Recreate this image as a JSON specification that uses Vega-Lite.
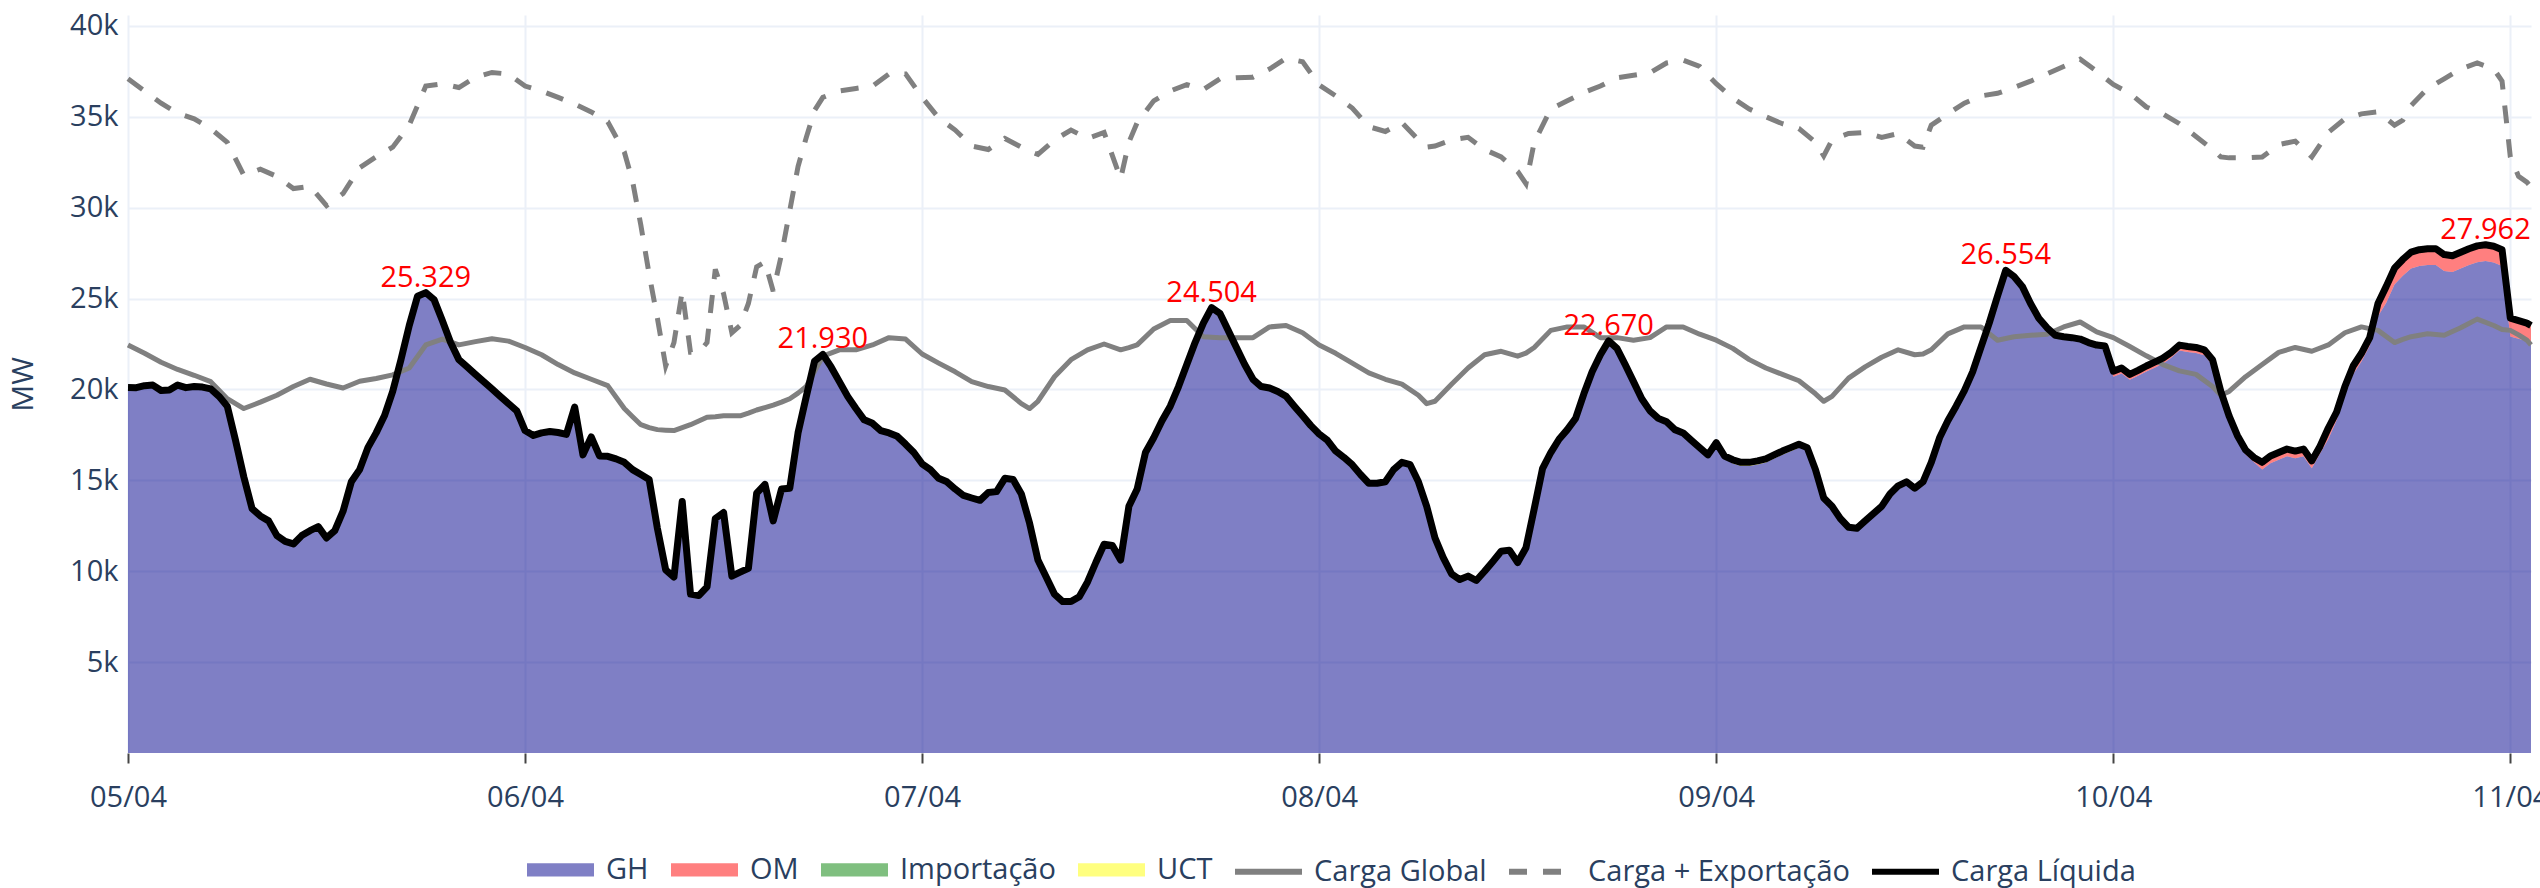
{
"$schema":"https://vega.github.io/schema/vega-lite/v6.json",
"width":2403,"height":738,
"autosize":{"type":"none"},
"padding":{"left":128,"top":15,"right":9,"bottom":135},
"background":"white",
"config":{"view":{"stroke":null},"font":"Open Sans",
"axis":{"labelFont":"Open Sans","titleFont":"Open Sans","labelColor":"#2a3f5f","titleColor":"#2a3f5f","gridColor":"#EBF0F8","gridWidth":2,"domain":false}},
"datasets":{
"g":[
{"t":"2023-04-05T00:00","GH":20110,"OM":0,"UCT":0,"cl":20110},
{"t":"2023-04-05T00:30","GH":20100,"OM":0,"UCT":0,"cl":20100},
{"t":"2023-04-05T01:00","GH":20210,"OM":0,"UCT":0,"cl":20210},
{"t":"2023-04-05T01:30","GH":20240,"OM":0,"UCT":0,"cl":20240},
{"t":"2023-04-05T02:00","GH":19940,"OM":0,"UCT":0,"cl":19940},
{"t":"2023-04-05T02:30","GH":19970,"OM":0,"UCT":0,"cl":19970},
{"t":"2023-04-05T03:00","GH":20240,"OM":0,"UCT":0,"cl":20240},
{"t":"2023-04-05T03:30","GH":20100,"OM":0,"UCT":0,"cl":20100},
{"t":"2023-04-05T04:00","GH":20160,"OM":0,"UCT":0,"cl":20160},
{"t":"2023-04-05T04:30","GH":20130,"OM":0,"UCT":0,"cl":20130},
{"t":"2023-04-05T05:00","GH":20030,"OM":0,"UCT":0,"cl":20030},
{"t":"2023-04-05T05:30","GH":19620,"OM":0,"UCT":0,"cl":19620},
{"t":"2023-04-05T06:00","GH":19080,"OM":0,"UCT":0,"cl":19080},
{"t":"2023-04-05T06:30","GH":17200,"OM":0,"UCT":0,"cl":17200},
{"t":"2023-04-05T07:00","GH":15190,"OM":0,"UCT":0,"cl":15190},
{"t":"2023-04-05T07:30","GH":13440,"OM":0,"UCT":0,"cl":13440},
{"t":"2023-04-05T08:00","GH":13040,"OM":0,"UCT":0,"cl":13040},
{"t":"2023-04-05T08:30","GH":12770,"OM":0,"UCT":0,"cl":12770},
{"t":"2023-04-05T09:00","GH":11960,"OM":0,"UCT":0,"cl":11960},
{"t":"2023-04-05T09:30","GH":11640,"OM":0,"UCT":0,"cl":11640},
{"t":"2023-04-05T10:00","GH":11500,"OM":0,"UCT":0,"cl":11500},
{"t":"2023-04-05T10:30","GH":11960,"OM":0,"UCT":0,"cl":11960},
{"t":"2023-04-05T11:00","GH":12230,"OM":0,"UCT":0,"cl":12230},
{"t":"2023-04-05T11:30","GH":12450,"OM":0,"UCT":0,"cl":12450},
{"t":"2023-04-05T12:00","GH":11830,"OM":0,"UCT":0,"cl":11830},
{"t":"2023-04-05T12:30","GH":12230,"OM":0,"UCT":0,"cl":12230},
{"t":"2023-04-05T13:00","GH":13300,"OM":0,"UCT":0,"cl":13300},
{"t":"2023-04-05T13:30","GH":14920,"OM":0,"UCT":0,"cl":14920},
{"t":"2023-04-05T14:00","GH":15590,"OM":0,"UCT":0,"cl":15590},
{"t":"2023-04-05T14:30","GH":16800,"OM":0,"UCT":0,"cl":16800},
{"t":"2023-04-05T15:00","GH":17610,"OM":0,"UCT":0,"cl":17610},
{"t":"2023-04-05T15:30","GH":18550,"OM":0,"UCT":0,"cl":18550},
{"t":"2023-04-05T16:00","GH":19890,"OM":0,"UCT":0,"cl":19890},
{"t":"2023-04-05T16:30","GH":21640,"OM":0,"UCT":0,"cl":21640},
{"t":"2023-04-05T17:00","GH":23520,"OM":0,"UCT":0,"cl":23520},
{"t":"2023-04-05T17:30","GH":25130,"OM":0,"UCT":0,"cl":25130},
{"t":"2023-04-05T18:00","GH":25329,"OM":0,"UCT":0,"cl":25329},
{"t":"2023-04-05T18:30","GH":24940,"OM":0,"UCT":0,"cl":24940},
{"t":"2023-04-05T19:00","GH":23790,"OM":0,"UCT":0,"cl":23790},
{"t":"2023-04-05T19:30","GH":22580,"OM":0,"UCT":0,"cl":22580},
{"t":"2023-04-05T20:00","GH":21640,"OM":0,"UCT":0,"cl":21640},
{"t":"2023-04-05T20:30","GH":21240,"OM":0,"UCT":0,"cl":21240},
{"t":"2023-04-05T21:00","GH":20830,"OM":0,"UCT":0,"cl":20830},
{"t":"2023-04-05T21:30","GH":20430,"OM":0,"UCT":0,"cl":20430},
{"t":"2023-04-05T22:00","GH":20030,"OM":0,"UCT":0,"cl":20030},
{"t":"2023-04-05T22:30","GH":19620,"OM":0,"UCT":0,"cl":19620},
{"t":"2023-04-05T23:00","GH":19220,"OM":0,"UCT":0,"cl":19220},
{"t":"2023-04-05T23:30","GH":18820,"OM":0,"UCT":0,"cl":18820},
{"t":"2023-04-06T00:00","GH":17740,"OM":0,"UCT":0,"cl":17740},
{"t":"2023-04-06T00:30","GH":17470,"OM":0,"UCT":0,"cl":17470},
{"t":"2023-04-06T01:00","GH":17610,"OM":0,"UCT":0,"cl":17610},
{"t":"2023-04-06T01:30","GH":17690,"OM":0,"UCT":0,"cl":17690},
{"t":"2023-04-06T02:00","GH":17630,"OM":0,"UCT":0,"cl":17630},
{"t":"2023-04-06T02:30","GH":17530,"OM":0,"UCT":0,"cl":17530},
{"t":"2023-04-06T03:00","GH":19030,"OM":0,"UCT":0,"cl":19030},
{"t":"2023-04-06T03:30","GH":16400,"OM":0,"UCT":0,"cl":16400},
{"t":"2023-04-06T04:00","GH":17390,"OM":0,"UCT":0,"cl":17390},
{"t":"2023-04-06T04:30","GH":16340,"OM":0,"UCT":0,"cl":16340},
{"t":"2023-04-06T05:00","GH":16320,"OM":0,"UCT":0,"cl":16320},
{"t":"2023-04-06T05:30","GH":16180,"OM":0,"UCT":0,"cl":16180},
{"t":"2023-04-06T06:00","GH":15990,"OM":0,"UCT":0,"cl":15990},
{"t":"2023-04-06T06:30","GH":15590,"OM":0,"UCT":0,"cl":15590},
{"t":"2023-04-06T07:00","GH":15320,"OM":0,"UCT":0,"cl":15320},
{"t":"2023-04-06T07:30","GH":15050,"OM":0,"UCT":0,"cl":15050},
{"t":"2023-04-06T08:00","GH":12360,"OM":0,"UCT":0,"cl":12360},
{"t":"2023-04-06T08:30","GH":10080,"OM":0,"UCT":0,"cl":10080},
{"t":"2023-04-06T09:00","GH":9680,"OM":0,"UCT":0,"cl":9680},
{"t":"2023-04-06T09:30","GH":13840,"OM":0,"UCT":0,"cl":13840},
{"t":"2023-04-06T10:00","GH":8740,"OM":0,"UCT":0,"cl":8740},
{"t":"2023-04-06T10:30","GH":8660,"OM":0,"UCT":0,"cl":8660},
{"t":"2023-04-06T11:00","GH":9140,"OM":0,"UCT":0,"cl":9140},
{"t":"2023-04-06T11:30","GH":12900,"OM":0,"UCT":0,"cl":12900},
{"t":"2023-04-06T12:00","GH":13230,"OM":0,"UCT":0,"cl":13230},
{"t":"2023-04-06T12:30","GH":9730,"OM":0,"UCT":0,"cl":9730},
{"t":"2023-04-06T13:00","GH":9950,"OM":0,"UCT":0,"cl":9950},
{"t":"2023-04-06T13:30","GH":10160,"OM":0,"UCT":0,"cl":10160},
{"t":"2023-04-06T14:00","GH":14300,"OM":0,"UCT":0,"cl":14300},
{"t":"2023-04-06T14:30","GH":14780,"OM":0,"UCT":0,"cl":14780},
{"t":"2023-04-06T15:00","GH":12770,"OM":0,"UCT":0,"cl":12770},
{"t":"2023-04-06T15:30","GH":14520,"OM":0,"UCT":0,"cl":14520},
{"t":"2023-04-06T16:00","GH":14570,"OM":0,"UCT":0,"cl":14570},
{"t":"2023-04-06T16:30","GH":17610,"OM":0,"UCT":0,"cl":17610},
{"t":"2023-04-06T17:00","GH":19620,"OM":0,"UCT":0,"cl":19620},
{"t":"2023-04-06T17:30","GH":21560,"OM":0,"UCT":0,"cl":21560},
{"t":"2023-04-06T18:00","GH":21930,"OM":0,"UCT":0,"cl":21930},
{"t":"2023-04-06T18:30","GH":21240,"OM":0,"UCT":0,"cl":21240},
{"t":"2023-04-06T19:00","GH":20430,"OM":0,"UCT":0,"cl":20430},
{"t":"2023-04-06T19:30","GH":19620,"OM":0,"UCT":0,"cl":19620},
{"t":"2023-04-06T20:00","GH":18950,"OM":0,"UCT":0,"cl":18950},
{"t":"2023-04-06T20:30","GH":18330,"OM":0,"UCT":0,"cl":18330},
{"t":"2023-04-06T21:00","GH":18140,"OM":0,"UCT":0,"cl":18140},
{"t":"2023-04-06T21:30","GH":17740,"OM":0,"UCT":0,"cl":17740},
{"t":"2023-04-06T22:00","GH":17610,"OM":0,"UCT":0,"cl":17610},
{"t":"2023-04-06T22:30","GH":17420,"OM":0,"UCT":0,"cl":17420},
{"t":"2023-04-06T23:00","GH":16990,"OM":0,"UCT":0,"cl":16990},
{"t":"2023-04-06T23:30","GH":16530,"OM":0,"UCT":0,"cl":16530},
{"t":"2023-04-07T00:00","GH":15910,"OM":0,"UCT":0,"cl":15910},
{"t":"2023-04-07T00:30","GH":15590,"OM":0,"UCT":0,"cl":15590},
{"t":"2023-04-07T01:00","GH":15110,"OM":0,"UCT":0,"cl":15110},
{"t":"2023-04-07T01:30","GH":14920,"OM":0,"UCT":0,"cl":14920},
{"t":"2023-04-07T02:00","GH":14520,"OM":0,"UCT":0,"cl":14520},
{"t":"2023-04-07T02:30","GH":14170,"OM":0,"UCT":0,"cl":14170},
{"t":"2023-04-07T03:00","GH":14030,"OM":0,"UCT":0,"cl":14030},
{"t":"2023-04-07T03:30","GH":13900,"OM":0,"UCT":0,"cl":13900},
{"t":"2023-04-07T04:00","GH":14330,"OM":0,"UCT":0,"cl":14330},
{"t":"2023-04-07T04:30","GH":14380,"OM":0,"UCT":0,"cl":14380},
{"t":"2023-04-07T05:00","GH":15110,"OM":0,"UCT":0,"cl":15110},
{"t":"2023-04-07T05:30","GH":15050,"OM":0,"UCT":0,"cl":15050},
{"t":"2023-04-07T06:00","GH":14250,"OM":0,"UCT":0,"cl":14250},
{"t":"2023-04-07T06:30","GH":12630,"OM":0,"UCT":0,"cl":12630},
{"t":"2023-04-07T07:00","GH":10620,"OM":0,"UCT":0,"cl":10620},
{"t":"2023-04-07T07:30","GH":9680,"OM":0,"UCT":0,"cl":9680},
{"t":"2023-04-07T08:00","GH":8740,"OM":0,"UCT":0,"cl":8740},
{"t":"2023-04-07T08:30","GH":8330,"OM":0,"UCT":0,"cl":8330},
{"t":"2023-04-07T09:00","GH":8330,"OM":0,"UCT":0,"cl":8330},
{"t":"2023-04-07T09:30","GH":8600,"OM":0,"UCT":0,"cl":8600},
{"t":"2023-04-07T10:00","GH":9410,"OM":0,"UCT":0,"cl":9410},
{"t":"2023-04-07T10:30","GH":10480,"OM":0,"UCT":0,"cl":10480},
{"t":"2023-04-07T11:00","GH":11480,"OM":0,"UCT":0,"cl":11480},
{"t":"2023-04-07T11:30","GH":11420,"OM":0,"UCT":0,"cl":11420},
{"t":"2023-04-07T12:00","GH":10620,"OM":0,"UCT":0,"cl":10620},
{"t":"2023-04-07T12:30","GH":13570,"OM":0,"UCT":0,"cl":13570},
{"t":"2023-04-07T13:00","GH":14520,"OM":0,"UCT":0,"cl":14520},
{"t":"2023-04-07T13:30","GH":16530,"OM":0,"UCT":0,"cl":16530},
{"t":"2023-04-07T14:00","GH":17340,"OM":0,"UCT":0,"cl":17340},
{"t":"2023-04-07T14:30","GH":18280,"OM":0,"UCT":0,"cl":18280},
{"t":"2023-04-07T15:00","GH":19080,"OM":0,"UCT":0,"cl":19080},
{"t":"2023-04-07T15:30","GH":20160,"OM":0,"UCT":0,"cl":20160},
{"t":"2023-04-07T16:00","GH":21370,"OM":0,"UCT":0,"cl":21370},
{"t":"2023-04-07T16:30","GH":22580,"OM":0,"UCT":0,"cl":22580},
{"t":"2023-04-07T17:00","GH":23650,"OM":0,"UCT":0,"cl":23650},
{"t":"2023-04-07T17:30","GH":24504,"OM":0,"UCT":0,"cl":24504},
{"t":"2023-04-07T18:00","GH":24190,"OM":0,"UCT":0,"cl":24190},
{"t":"2023-04-07T18:30","GH":23250,"OM":0,"UCT":0,"cl":23250},
{"t":"2023-04-07T19:00","GH":22310,"OM":0,"UCT":0,"cl":22310},
{"t":"2023-04-07T19:30","GH":21370,"OM":0,"UCT":0,"cl":21370},
{"t":"2023-04-07T20:00","GH":20560,"OM":0,"UCT":0,"cl":20560},
{"t":"2023-04-07T20:30","GH":20160,"OM":0,"UCT":0,"cl":20160},
{"t":"2023-04-07T21:00","GH":20080,"OM":0,"UCT":0,"cl":20080},
{"t":"2023-04-07T21:30","GH":19890,"OM":0,"UCT":0,"cl":19890},
{"t":"2023-04-07T22:00","GH":19620,"OM":0,"UCT":0,"cl":19620},
{"t":"2023-04-07T22:30","GH":19080,"OM":0,"UCT":0,"cl":19080},
{"t":"2023-04-07T23:00","GH":18550,"OM":0,"UCT":0,"cl":18550},
{"t":"2023-04-07T23:30","GH":18010,"OM":0,"UCT":0,"cl":18010},
{"t":"2023-04-08T00:00","GH":17550,"OM":0,"UCT":0,"cl":17550},
{"t":"2023-04-08T00:30","GH":17200,"OM":0,"UCT":0,"cl":17200},
{"t":"2023-04-08T01:00","GH":16610,"OM":0,"UCT":0,"cl":16610},
{"t":"2023-04-08T01:30","GH":16260,"OM":0,"UCT":0,"cl":16260},
{"t":"2023-04-08T02:00","GH":15860,"OM":0,"UCT":0,"cl":15860},
{"t":"2023-04-08T02:30","GH":15320,"OM":0,"UCT":0,"cl":15320},
{"t":"2023-04-08T03:00","GH":14690,"OM":0,"UCT":150,"cl":14840},
{"t":"2023-04-08T03:30","GH":14690,"OM":0,"UCT":150,"cl":14840},
{"t":"2023-04-08T04:00","GH":14770,"OM":0,"UCT":150,"cl":14920},
{"t":"2023-04-08T04:30","GH":15590,"OM":0,"UCT":0,"cl":15590},
{"t":"2023-04-08T05:00","GH":15990,"OM":0,"UCT":0,"cl":15990},
{"t":"2023-04-08T05:30","GH":15860,"OM":0,"UCT":0,"cl":15860},
{"t":"2023-04-08T06:00","GH":14920,"OM":0,"UCT":0,"cl":14920},
{"t":"2023-04-08T06:30","GH":13570,"OM":0,"UCT":0,"cl":13570},
{"t":"2023-04-08T07:00","GH":11830,"OM":0,"UCT":0,"cl":11830},
{"t":"2023-04-08T07:30","GH":10750,"OM":0,"UCT":0,"cl":10750},
{"t":"2023-04-08T08:00","GH":9860,"OM":0,"UCT":0,"cl":9860},
{"t":"2023-04-08T08:30","GH":9390,"OM":0,"UCT":150,"cl":9540},
{"t":"2023-04-08T09:00","GH":9580,"OM":0,"UCT":150,"cl":9730},
{"t":"2023-04-08T09:30","GH":9340,"OM":0,"UCT":150,"cl":9490},
{"t":"2023-04-08T10:00","GH":9850,"OM":0,"UCT":150,"cl":10000},
{"t":"2023-04-08T10:30","GH":10390,"OM":0,"UCT":150,"cl":10540},
{"t":"2023-04-08T11:00","GH":10950,"OM":0,"UCT":150,"cl":11100},
{"t":"2023-04-08T11:30","GH":11010,"OM":0,"UCT":150,"cl":11160},
{"t":"2023-04-08T12:00","GH":10330,"OM":0,"UCT":150,"cl":10480},
{"t":"2023-04-08T12:30","GH":11290,"OM":0,"UCT":0,"cl":11290},
{"t":"2023-04-08T13:00","GH":13440,"OM":0,"UCT":0,"cl":13440},
{"t":"2023-04-08T13:30","GH":15640,"OM":0,"UCT":0,"cl":15640},
{"t":"2023-04-08T14:00","GH":16530,"OM":0,"UCT":0,"cl":16530},
{"t":"2023-04-08T14:30","GH":17260,"OM":0,"UCT":0,"cl":17260},
{"t":"2023-04-08T15:00","GH":17790,"OM":0,"UCT":0,"cl":17790},
{"t":"2023-04-08T15:30","GH":18410,"OM":0,"UCT":0,"cl":18410},
{"t":"2023-04-08T16:00","GH":19760,"OM":0,"UCT":0,"cl":19760},
{"t":"2023-04-08T16:30","GH":20970,"OM":0,"UCT":0,"cl":20970},
{"t":"2023-04-08T17:00","GH":21910,"OM":0,"UCT":0,"cl":21910},
{"t":"2023-04-08T17:30","GH":22670,"OM":0,"UCT":0,"cl":22670},
{"t":"2023-04-08T18:00","GH":22260,"OM":0,"UCT":0,"cl":22260},
{"t":"2023-04-08T18:30","GH":21370,"OM":0,"UCT":0,"cl":21370},
{"t":"2023-04-08T19:00","GH":20430,"OM":0,"UCT":0,"cl":20430},
{"t":"2023-04-08T19:30","GH":19490,"OM":0,"UCT":0,"cl":19490},
{"t":"2023-04-08T20:00","GH":18820,"OM":0,"UCT":0,"cl":18820},
{"t":"2023-04-08T20:30","GH":18410,"OM":0,"UCT":0,"cl":18410},
{"t":"2023-04-08T21:00","GH":18220,"OM":0,"UCT":0,"cl":18220},
{"t":"2023-04-08T21:30","GH":17790,"OM":0,"UCT":0,"cl":17790},
{"t":"2023-04-08T22:00","GH":17610,"OM":0,"UCT":0,"cl":17610},
{"t":"2023-04-08T22:30","GH":17200,"OM":0,"UCT":0,"cl":17200},
{"t":"2023-04-08T23:00","GH":16800,"OM":0,"UCT":0,"cl":16800},
{"t":"2023-04-08T23:30","GH":16400,"OM":0,"UCT":0,"cl":16400},
{"t":"2023-04-09T00:00","GH":17070,"OM":0,"UCT":0,"cl":17070},
{"t":"2023-04-09T00:30","GH":16340,"OM":0,"UCT":0,"cl":16340},
{"t":"2023-04-09T01:00","GH":15930,"OM":0,"UCT":200,"cl":16130},
{"t":"2023-04-09T01:30","GH":15790,"OM":0,"UCT":200,"cl":15990},
{"t":"2023-04-09T02:00","GH":15790,"OM":0,"UCT":200,"cl":15990},
{"t":"2023-04-09T02:30","GH":15870,"OM":0,"UCT":200,"cl":16070},
{"t":"2023-04-09T03:00","GH":15980,"OM":0,"UCT":200,"cl":16180},
{"t":"2023-04-09T03:30","GH":16200,"OM":0,"UCT":200,"cl":16400},
{"t":"2023-04-09T04:00","GH":16410,"OM":0,"UCT":200,"cl":16610},
{"t":"2023-04-09T04:30","GH":16600,"OM":0,"UCT":200,"cl":16800},
{"t":"2023-04-09T05:00","GH":16790,"OM":0,"UCT":200,"cl":16990},
{"t":"2023-04-09T05:30","GH":16800,"OM":0,"UCT":0,"cl":16800},
{"t":"2023-04-09T06:00","GH":15590,"OM":0,"UCT":0,"cl":15590},
{"t":"2023-04-09T06:30","GH":14030,"OM":0,"UCT":0,"cl":14030},
{"t":"2023-04-09T07:00","GH":13570,"OM":0,"UCT":0,"cl":13570},
{"t":"2023-04-09T07:30","GH":12900,"OM":0,"UCT":0,"cl":12900},
{"t":"2023-04-09T08:00","GH":12420,"OM":0,"UCT":0,"cl":12420},
{"t":"2023-04-09T08:30","GH":12360,"OM":0,"UCT":0,"cl":12360},
{"t":"2023-04-09T09:00","GH":12770,"OM":0,"UCT":0,"cl":12770},
{"t":"2023-04-09T09:30","GH":13020,"OM":0,"UCT":150,"cl":13170},
{"t":"2023-04-09T10:00","GH":13420,"OM":0,"UCT":150,"cl":13570},
{"t":"2023-04-09T10:30","GH":14100,"OM":0,"UCT":150,"cl":14250},
{"t":"2023-04-09T11:00","GH":14550,"OM":0,"UCT":150,"cl":14700},
{"t":"2023-04-09T11:30","GH":14770,"OM":0,"UCT":150,"cl":14920},
{"t":"2023-04-09T12:00","GH":14420,"OM":0,"UCT":150,"cl":14570},
{"t":"2023-04-09T12:30","GH":14770,"OM":0,"UCT":150,"cl":14920},
{"t":"2023-04-09T13:00","GH":15990,"OM":0,"UCT":0,"cl":15990},
{"t":"2023-04-09T13:30","GH":17340,"OM":0,"UCT":0,"cl":17340},
{"t":"2023-04-09T14:00","GH":18280,"OM":0,"UCT":0,"cl":18280},
{"t":"2023-04-09T14:30","GH":19080,"OM":0,"UCT":0,"cl":19080},
{"t":"2023-04-09T15:00","GH":19940,"OM":0,"UCT":0,"cl":19940},
{"t":"2023-04-09T15:30","GH":20970,"OM":0,"UCT":0,"cl":20970},
{"t":"2023-04-09T16:00","GH":22310,"OM":0,"UCT":0,"cl":22310},
{"t":"2023-04-09T16:30","GH":23650,"OM":0,"UCT":0,"cl":23650},
{"t":"2023-04-09T17:00","GH":25130,"OM":0,"UCT":0,"cl":25130},
{"t":"2023-04-09T17:30","GH":26554,"OM":0,"UCT":0,"cl":26554},
{"t":"2023-04-09T18:00","GH":26210,"OM":0,"UCT":0,"cl":26210},
{"t":"2023-04-09T18:30","GH":25670,"OM":0,"UCT":0,"cl":25670},
{"t":"2023-04-09T19:00","GH":24730,"OM":0,"UCT":0,"cl":24730},
{"t":"2023-04-09T19:30","GH":23920,"OM":0,"UCT":0,"cl":23920},
{"t":"2023-04-09T20:00","GH":23390,"OM":0,"UCT":0,"cl":23390},
{"t":"2023-04-09T20:30","GH":22980,"OM":0,"UCT":0,"cl":22980},
{"t":"2023-04-09T21:00","GH":22900,"OM":0,"UCT":0,"cl":22900},
{"t":"2023-04-09T21:30","GH":22850,"OM":0,"UCT":0,"cl":22850},
{"t":"2023-04-09T22:00","GH":22770,"OM":0,"UCT":0,"cl":22770},
{"t":"2023-04-09T22:30","GH":22580,"OM":0,"UCT":0,"cl":22580},
{"t":"2023-04-09T23:00","GH":22440,"OM":0,"UCT":0,"cl":22440},
{"t":"2023-04-09T23:30","GH":22390,"OM":0,"UCT":0,"cl":22390},
{"t":"2023-04-10T00:00","GH":20700,"OM":300,"UCT":0,"cl":21000},
{"t":"2023-04-10T00:30","GH":20880,"OM":300,"UCT":0,"cl":21180},
{"t":"2023-04-10T01:00","GH":20530,"OM":300,"UCT":0,"cl":20830},
{"t":"2023-04-10T01:30","GH":20750,"OM":300,"UCT":0,"cl":21050},
{"t":"2023-04-10T02:00","GH":20990,"OM":300,"UCT":0,"cl":21290},
{"t":"2023-04-10T02:30","GH":21200,"OM":300,"UCT":0,"cl":21500},
{"t":"2023-04-10T03:00","GH":21420,"OM":300,"UCT":0,"cl":21720},
{"t":"2023-04-10T03:30","GH":21740,"OM":300,"UCT":0,"cl":22040},
{"t":"2023-04-10T04:00","GH":22140,"OM":300,"UCT":0,"cl":22440},
{"t":"2023-04-10T04:30","GH":22060,"OM":300,"UCT":0,"cl":22360},
{"t":"2023-04-10T05:00","GH":22010,"OM":300,"UCT":0,"cl":22310},
{"t":"2023-04-10T05:30","GH":21880,"OM":300,"UCT":0,"cl":22180},
{"t":"2023-04-10T06:00","GH":21340,"OM":300,"UCT":0,"cl":21640},
{"t":"2023-04-10T06:30","GH":19640,"OM":250,"UCT":0,"cl":19890},
{"t":"2023-04-10T07:00","GH":18300,"OM":250,"UCT":0,"cl":18550},
{"t":"2023-04-10T07:30","GH":17220,"OM":250,"UCT":0,"cl":17470},
{"t":"2023-04-10T08:00","GH":16420,"OM":250,"UCT":0,"cl":16670},
{"t":"2023-04-10T08:30","GH":16010,"OM":250,"UCT":0,"cl":16260},
{"t":"2023-04-10T09:00","GH":15590,"OM":250,"UCT":150,"cl":15990},
{"t":"2023-04-10T09:30","GH":15940,"OM":250,"UCT":150,"cl":16340},
{"t":"2023-04-10T10:00","GH":16130,"OM":250,"UCT":150,"cl":16530},
{"t":"2023-04-10T10:30","GH":16320,"OM":250,"UCT":150,"cl":16720},
{"t":"2023-04-10T11:00","GH":16210,"OM":250,"UCT":150,"cl":16610},
{"t":"2023-04-10T11:30","GH":16320,"OM":250,"UCT":150,"cl":16720},
{"t":"2023-04-10T12:00","GH":15670,"OM":250,"UCT":150,"cl":16070},
{"t":"2023-04-10T12:30","GH":16480,"OM":250,"UCT":150,"cl":16880},
{"t":"2023-04-10T13:00","GH":17280,"OM":450,"UCT":150,"cl":17880},
{"t":"2023-04-10T13:30","GH":18310,"OM":450,"UCT":0,"cl":18760},
{"t":"2023-04-10T14:00","GH":19710,"OM":450,"UCT":0,"cl":20160},
{"t":"2023-04-10T14:30","GH":20840,"OM":450,"UCT":0,"cl":21290},
{"t":"2023-04-10T15:00","GH":21540,"OM":450,"UCT":0,"cl":21990},
{"t":"2023-04-10T15:30","GH":22400,"OM":450,"UCT":0,"cl":22850},
{"t":"2023-04-10T16:00","GH":24030,"OM":700,"UCT":0,"cl":24730},
{"t":"2023-04-10T16:30","GH":24770,"OM":900,"UCT":0,"cl":25670},
{"t":"2023-04-10T17:00","GH":25770,"OM":900,"UCT":0,"cl":26670},
{"t":"2023-04-10T17:30","GH":26250,"OM":900,"UCT":0,"cl":27150},
{"t":"2023-04-10T18:00","GH":26650,"OM":900,"UCT":0,"cl":27550},
{"t":"2023-04-10T18:30","GH":26790,"OM":900,"UCT":0,"cl":27690},
{"t":"2023-04-10T19:00","GH":26840,"OM":900,"UCT":0,"cl":27740},
{"t":"2023-04-10T19:30","GH":26840,"OM":900,"UCT":0,"cl":27740},
{"t":"2023-04-10T20:00","GH":26520,"OM":900,"UCT":0,"cl":27420},
{"t":"2023-04-10T20:30","GH":26460,"OM":900,"UCT":0,"cl":27360},
{"t":"2023-04-10T21:00","GH":26650,"OM":900,"UCT":0,"cl":27550},
{"t":"2023-04-10T21:30","GH":26840,"OM":900,"UCT":0,"cl":27740},
{"t":"2023-04-10T22:00","GH":27000,"OM":900,"UCT":0,"cl":27900},
{"t":"2023-04-10T22:30","GH":27062,"OM":900,"UCT":0,"cl":27962},
{"t":"2023-04-10T23:00","GH":26980,"OM":900,"UCT":0,"cl":27880},
{"t":"2023-04-10T23:30","GH":26790,"OM":900,"UCT":0,"cl":27690},
{"t":"2023-04-11T00:00","GH":22920,"OM":1000,"UCT":0,"cl":23920},
{"t":"2023-04-11T00:30","GH":22790,"OM":1000,"UCT":0,"cl":23790},
{"t":"2023-04-11T01:00","GH":22650,"OM":1000,"UCT":0,"cl":23650},
{"t":"2023-04-11T01:15","GH":22570,"OM":950,"UCT":0,"cl":23520}
],
"l":[
{"t":"2023-04-05T00:00","cg":22450,"ce":37090},
{"t":"2023-04-05T01:00","cg":21990,"ce":36420},
{"t":"2023-04-05T02:00","cg":21500,"ce":35750},
{"t":"2023-04-05T03:00","cg":21100,"ce":35200},
{"t":"2023-04-05T04:00","cg":20780,"ce":34890},
{"t":"2023-04-05T05:00","cg":20430,"ce":34350},
{"t":"2023-04-05T06:00","cg":19490,"ce":33600},
{"t":"2023-04-05T07:00","cg":18950,"ce":31780},
{"t":"2023-04-05T08:00","cg":19300,"ce":32120},
{"t":"2023-04-05T09:00","cg":19680,"ce":31720},
{"t":"2023-04-05T10:00","cg":20160,"ce":31050},
{"t":"2023-04-05T11:00","cg":20560,"ce":31180},
{"t":"2023-04-05T12:00","cg":20300,"ce":30110},
{"t":"2023-04-05T13:00","cg":20080,"ce":30780},
{"t":"2023-04-05T14:00","cg":20450,"ce":32200},
{"t":"2023-04-05T15:00","cg":20600,"ce":32800},
{"t":"2023-04-05T16:00","cg":20800,"ce":33330},
{"t":"2023-04-05T17:00","cg":21180,"ce":34540},
{"t":"2023-04-05T18:00","cg":22450,"ce":36690},
{"t":"2023-04-05T19:00","cg":22770,"ce":36820},
{"t":"2023-04-05T20:00","cg":22450,"ce":36610},
{"t":"2023-04-05T21:00","cg":22630,"ce":37180},
{"t":"2023-04-05T22:00","cg":22790,"ce":37440},
{"t":"2023-04-05T23:00","cg":22660,"ce":37350},
{"t":"2023-04-06T00:00","cg":22310,"ce":36690},
{"t":"2023-04-06T01:00","cg":21910,"ce":36420},
{"t":"2023-04-06T02:00","cg":21370,"ce":36070},
{"t":"2023-04-06T03:00","cg":20910,"ce":35700},
{"t":"2023-04-06T04:00","cg":20560,"ce":35270},
{"t":"2023-04-06T05:00","cg":20210,"ce":34730},
{"t":"2023-04-06T06:00","cg":18950,"ce":33060},
{"t":"2023-04-06T06:30","cg":18500,"ce":31450},
{"t":"2023-04-06T07:00","cg":18060,"ce":29030},
{"t":"2023-04-06T07:30","cg":17900,"ce":26340},
{"t":"2023-04-06T08:00","cg":17790,"ce":23920},
{"t":"2023-04-06T08:30","cg":17760,"ce":21290},
{"t":"2023-04-06T09:00","cg":17740,"ce":22580},
{"t":"2023-04-06T09:30","cg":17900,"ce":25400},
{"t":"2023-04-06T10:00","cg":18060,"ce":22040},
{"t":"2023-04-06T10:30","cg":18260,"ce":22040},
{"t":"2023-04-06T11:00","cg":18470,"ce":22580},
{"t":"2023-04-06T11:30","cg":18500,"ce":26610},
{"t":"2023-04-06T12:00","cg":18550,"ce":25270},
{"t":"2023-04-06T12:30","cg":18550,"ce":23120},
{"t":"2023-04-06T13:00","cg":18550,"ce":23520},
{"t":"2023-04-06T13:30","cg":18700,"ce":24730},
{"t":"2023-04-06T14:00","cg":18870,"ce":26750},
{"t":"2023-04-06T14:30","cg":19000,"ce":27010},
{"t":"2023-04-06T15:00","cg":19140,"ce":25400},
{"t":"2023-04-06T15:30","cg":19300,"ce":27420},
{"t":"2023-04-06T16:00","cg":19490,"ce":29840},
{"t":"2023-04-06T16:30","cg":19800,"ce":32260},
{"t":"2023-04-06T17:00","cg":20160,"ce":33870},
{"t":"2023-04-06T17:30","cg":21000,"ce":35350},
{"t":"2023-04-06T18:00","cg":21830,"ce":36070},
{"t":"2023-04-06T19:00","cg":22180,"ce":36420},
{"t":"2023-04-06T20:00","cg":22180,"ce":36560},
{"t":"2023-04-06T21:00","cg":22450,"ce":36690},
{"t":"2023-04-06T22:00","cg":22850,"ce":37360},
{"t":"2023-04-06T23:00","cg":22770,"ce":37360},
{"t":"2023-04-07T00:00","cg":21950,"ce":36070},
{"t":"2023-04-07T01:00","cg":21450,"ce":34940},
{"t":"2023-04-07T02:00","cg":20970,"ce":34270},
{"t":"2023-04-07T03:00","cg":20430,"ce":33390},
{"t":"2023-04-07T04:00","cg":20160,"ce":33200},
{"t":"2023-04-07T05:00","cg":19970,"ce":33810},
{"t":"2023-04-07T06:00","cg":19220,"ce":33330},
{"t":"2023-04-07T06:30","cg":18950,"ce":33100},
{"t":"2023-04-07T07:00","cg":19350,"ce":32930},
{"t":"2023-04-07T08:00","cg":20700,"ce":33730},
{"t":"2023-04-07T09:00","cg":21640,"ce":34270},
{"t":"2023-04-07T10:00","cg":22180,"ce":33810},
{"t":"2023-04-07T11:00","cg":22500,"ce":34140},
{"t":"2023-04-07T12:00","cg":22180,"ce":31590},
{"t":"2023-04-07T12:30","cg":22300,"ce":33600},
{"t":"2023-04-07T13:00","cg":22450,"ce":34680},
{"t":"2023-04-07T14:00","cg":23330,"ce":35880},
{"t":"2023-04-07T15:00","cg":23790,"ce":36420},
{"t":"2023-04-07T16:00","cg":23790,"ce":36770},
{"t":"2023-04-07T17:00","cg":22900,"ce":36500},
{"t":"2023-04-07T18:00","cg":22850,"ce":37090},
{"t":"2023-04-07T19:00","cg":22850,"ce":37150},
{"t":"2023-04-07T20:00","cg":22850,"ce":37180},
{"t":"2023-04-07T21:00","cg":23440,"ce":37630},
{"t":"2023-04-07T22:00","cg":23520,"ce":38220},
{"t":"2023-04-07T23:00","cg":23120,"ce":38030},
{"t":"2023-04-08T00:00","cg":22450,"ce":36750},
{"t":"2023-04-08T01:00","cg":21990,"ce":36150},
{"t":"2023-04-08T02:00","cg":21450,"ce":35480},
{"t":"2023-04-08T03:00","cg":20910,"ce":34460},
{"t":"2023-04-08T04:00","cg":20560,"ce":34190},
{"t":"2023-04-08T05:00","cg":20290,"ce":34680},
{"t":"2023-04-08T06:00","cg":19680,"ce":33730},
{"t":"2023-04-08T06:30","cg":19220,"ce":33330},
{"t":"2023-04-08T07:00","cg":19350,"ce":33390},
{"t":"2023-04-08T08:00","cg":20290,"ce":33730},
{"t":"2023-04-08T09:00","cg":21180,"ce":33870},
{"t":"2023-04-08T10:00","cg":21910,"ce":33200},
{"t":"2023-04-08T11:00","cg":22100,"ce":32790},
{"t":"2023-04-08T12:00","cg":21830,"ce":31990},
{"t":"2023-04-08T12:30","cg":22000,"ce":31320},
{"t":"2023-04-08T13:00","cg":22310,"ce":33600},
{"t":"2023-04-08T14:00","cg":23250,"ce":35430},
{"t":"2023-04-08T15:00","cg":23440,"ce":35880},
{"t":"2023-04-08T16:00","cg":23440,"ce":36340},
{"t":"2023-04-08T17:00","cg":22850,"ce":36690},
{"t":"2023-04-08T18:00","cg":22850,"ce":37150},
{"t":"2023-04-08T19:00","cg":22710,"ce":37280},
{"t":"2023-04-08T20:00","cg":22850,"ce":37420},
{"t":"2023-04-08T21:00","cg":23440,"ce":37960},
{"t":"2023-04-08T22:00","cg":23440,"ce":38120},
{"t":"2023-04-08T23:00","cg":23040,"ce":37770},
{"t":"2023-04-09T00:00","cg":22710,"ce":36820},
{"t":"2023-04-09T01:00","cg":22260,"ce":36020},
{"t":"2023-04-09T02:00","cg":21640,"ce":35430},
{"t":"2023-04-09T03:00","cg":21180,"ce":35000},
{"t":"2023-04-09T04:00","cg":20830,"ce":34620},
{"t":"2023-04-09T05:00","cg":20480,"ce":34350},
{"t":"2023-04-09T06:00","cg":19760,"ce":33600},
{"t":"2023-04-09T06:30","cg":19350,"ce":32850},
{"t":"2023-04-09T07:00","cg":19620,"ce":33730},
{"t":"2023-04-09T08:00","cg":20620,"ce":34080},
{"t":"2023-04-09T09:00","cg":21240,"ce":34140},
{"t":"2023-04-09T10:00","cg":21770,"ce":33870},
{"t":"2023-04-09T11:00","cg":22180,"ce":34080},
{"t":"2023-04-09T12:00","cg":21910,"ce":33390},
{"t":"2023-04-09T12:30","cg":21950,"ce":33330},
{"t":"2023-04-09T13:00","cg":22180,"ce":34540},
{"t":"2023-04-09T14:00","cg":23060,"ce":35160},
{"t":"2023-04-09T15:00","cg":23440,"ce":35750},
{"t":"2023-04-09T16:00","cg":23440,"ce":36150},
{"t":"2023-04-09T17:00","cg":22710,"ce":36290},
{"t":"2023-04-09T18:00","cg":22900,"ce":36610},
{"t":"2023-04-09T19:00","cg":22980,"ce":36960},
{"t":"2023-04-09T20:00","cg":23040,"ce":37360},
{"t":"2023-04-09T21:00","cg":23440,"ce":37770},
{"t":"2023-04-09T22:00","cg":23710,"ce":38170},
{"t":"2023-04-09T23:00","cg":23170,"ce":37500},
{"t":"2023-04-10T00:00","cg":22850,"ce":36780},
{"t":"2023-04-10T01:00","cg":22360,"ce":36290},
{"t":"2023-04-10T02:00","cg":21850,"ce":35540},
{"t":"2023-04-10T03:00","cg":21370,"ce":35160},
{"t":"2023-04-10T04:00","cg":21020,"ce":34620},
{"t":"2023-04-10T05:00","cg":20830,"ce":33920},
{"t":"2023-04-10T06:00","cg":20160,"ce":33200},
{"t":"2023-04-10T06:30","cg":19680,"ce":32790},
{"t":"2023-04-10T07:00","cg":19890,"ce":32740},
{"t":"2023-04-10T08:00","cg":20700,"ce":32740},
{"t":"2023-04-10T09:00","cg":21370,"ce":32790},
{"t":"2023-04-10T10:00","cg":22040,"ce":33470},
{"t":"2023-04-10T11:00","cg":22310,"ce":33660},
{"t":"2023-04-10T12:00","cg":22100,"ce":32790},
{"t":"2023-04-10T13:00","cg":22450,"ce":34140},
{"t":"2023-04-10T14:00","cg":23120,"ce":34890},
{"t":"2023-04-10T15:00","cg":23440,"ce":35160},
{"t":"2023-04-10T16:00","cg":23250,"ce":35270},
{"t":"2023-04-10T17:00","cg":22580,"ce":34540},
{"t":"2023-04-10T17:30","cg":22750,"ce":34810},
{"t":"2023-04-10T18:00","cg":22900,"ce":35620},
{"t":"2023-04-10T19:00","cg":23060,"ce":36560},
{"t":"2023-04-10T20:00","cg":22980,"ce":37090},
{"t":"2023-04-10T21:00","cg":23390,"ce":37630},
{"t":"2023-04-10T22:00","cg":23870,"ce":37960},
{"t":"2023-04-10T23:00","cg":23520,"ce":37630},
{"t":"2023-04-10T23:30","cg":23300,"ce":36960},
{"t":"2023-04-11T00:00","cg":23250,"ce":32790},
{"t":"2023-04-11T00:30","cg":23000,"ce":31720},
{"t":"2023-04-11T01:00","cg":22710,"ce":31400},
{"t":"2023-04-11T01:15","cg":22450,"ce":31130}
],
"p":[
{"t":"2023-04-05T18:00","v":25329,"label":"25.329"},
{"t":"2023-04-06T18:00","v":21930,"label":"21.930"},
{"t":"2023-04-07T17:30","v":24504,"label":"24.504"},
{"t":"2023-04-08T17:30","v":22670,"label":"22.670"},
{"t":"2023-04-09T17:30","v":26554,"label":"26.554"},
{"t":"2023-04-10T22:30","v":27962,"label":"27.962"}
]
},
"layer":[
{
"data":{"name":"g"},
"transform":[{"fold":["GH","OM","UCT"],"as":["k","v"]}],
"mark":{"type":"area","fillOpacity":0.5},
"encoding":{
"x":{"field":"t","type":"temporal","title":null,
"scale":{"domain":[{"year":2023,"month":4,"date":5,"hours":0,"minutes":0},{"year":2023,"month":4,"date":11,"hours":1,"minutes":15}],"nice":false},
"axis":{"title":null,"format":"%d/%m","tickCount":{"interval":"day","step":1},"labelFontSize":29,"labelPadding":20,"tickSize":10,"tickWidth":2,"tickColor":"#444444","ticks":true,"grid":true,"labelFlush":false,"labelOverlap":false}},
"y":{"field":"v","type":"quantitative","stack":"zero","title":"MW",
"scale":{"domain":[0,40600],"nice":false},
"axis":{"title":"MW","values":[5000,10000,15000,20000,25000,30000,35000,40000],"format":"~s","labelFontSize":29,"labelPadding":10,"ticks":false,"titleFontSize":30,"titleFontWeight":"normal","titleX":-105,"titleBaseline":"middle"}},
"color":{"field":"k","type":"nominal",
"scale":{"domain":["GH","OM","Importação","UCT","Carga Global","Carga + Exportação","Carga Líquida"],"range":["#00008b","#ff0000","#008000","#ffff00","#808080","#808080","#000000"]},
"legend":{"title":null,"orient":"none","direction":"horizontal","legendX":396,"legendY":818,"labelFontSize":29,"labelFont":"Open Sans","labelColor":"#2a3f5f","labelLimit":600,"symbolSize":4489,"symbolStrokeWidth":6,"labelOffset":9,"columnPadding":10,
"encode":{"symbols":{"update":{
"shape":{"signal":"indexof(['GH','OM','Importação','UCT'], datum.value) >= 0 ? 'M-1,-0.2H1V0.2H-1Z' : 'stroke'"},
"fill":{"signal":"datum.value=='GH' ? '#00008b' : datum.value=='OM' ? '#ff0000' : datum.value=='Importação' ? '#008000' : datum.value=='UCT' ? '#ffff00' : 'transparent'"},
"fillOpacity":{"value":0.5},
"opacity":{"value":1},
"stroke":{"signal":"indexof(['GH','OM','Importação','UCT'], datum.value) >= 0 ? 'transparent' : datum.value=='Carga Líquida' ? '#000000' : '#808080'"},
"strokeWidth":{"value":6},
"strokeDash":{"signal":"datum.value=='Carga + Exportação' ? [18,16] : [1,0]"}
}}}}},
"order":{"field":"k","sort":"ascending"}
}
},
{
"data":{"name":"l"},
"mark":{"type":"line","color":"#808080","strokeWidth":5,"strokeJoin":"round"},
"encoding":{"x":{"field":"t","type":"temporal","title":null},"y":{"field":"cg","type":"quantitative","title":"MW"}}
},
{
"data":{"name":"l"},
"mark":{"type":"line","color":"#808080","strokeWidth":5,"strokeDash":[18,16]},
"encoding":{"x":{"field":"t","type":"temporal","title":null},"y":{"field":"ce","type":"quantitative","title":"MW"}}
},
{
"data":{"name":"g"},
"mark":{"type":"line","color":"#000000","strokeWidth":7,"strokeJoin":"round"},
"encoding":{"x":{"field":"t","type":"temporal","title":null},"y":{"field":"cl","type":"quantitative","title":"MW"}}
},
{
"data":{"name":"p"},
"mark":{"type":"text","color":"#ff0000","fontSize":29,"font":"Open Sans","baseline":"alphabetic","align":"center","dy":-6},
"encoding":{"x":{"field":"t","type":"temporal","title":null},"y":{"field":"v","type":"quantitative","title":"MW"},"text":{"field":"label"}}
}
]
}
